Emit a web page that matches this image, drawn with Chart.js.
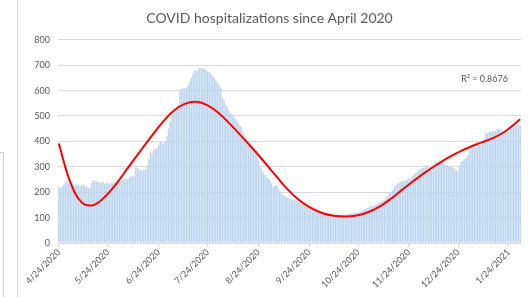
<!DOCTYPE html>
<html>
<head>
<meta charset="utf-8">
<title>COVID hospitalizations since April 2020</title>
<script src="https://cdn.jsdelivr.net/npm/chart.js@4/dist/chart.umd.min.js"></script>
<style>
  html, body { margin: 0; padding: 0; background: #fff; }
  #wrap { position: relative; width: 532px; height: 297px; overflow: hidden; }
  #frame { position: absolute; left: 17px; top: 0; width: 0; height: 297px; border-left: 1px solid #d9d9d9; }
  #sidebox { position: absolute; left: -10px; top: 152px; width: 12px; height: 160px; border: 1px solid #d0d0d0; }
</style>
</head>
<body>
<div id="wrap">
  <div id="frame"></div>
  <div id="sidebox"></div>
  <canvas id="hospChart" width="532" height="297"></canvas>
</div>
<script>
// Daily hospitalizations, first day is 4/24/2020
const startDate = new Date(2020, 3, 24);
const hospitalizations = [
  222, 215, 220, 230, 238, 244, 236, 230, 228, 225,
  225, 232, 226, 222, 228, 230, 224, 220, 216, 218,
  236, 248, 244, 240, 241, 238, 236, 240, 233, 235,
  238, 232, 236, 234, 240, 235, 242, 246, 250, 244,
  252, 255, 250, 258, 261, 264, 262, 300, 295, 290,
  287, 284, 288, 290, 300, 330, 360, 352, 365, 370,
  374, 385, 399, 396, 392, 399, 420, 450, 478, 495,
  512, 525, 535, 543, 600, 605, 608, 609, 612, 620,
  635, 650, 668, 681, 676, 684, 688, 689, 684, 686,
  681, 676, 672, 665, 658, 650, 640, 632, 620, 610,
  571, 560, 543, 535, 520, 510, 505, 498, 490, 482,
  470, 460, 448, 432, 420, 410, 405, 399, 385, 370,
  355, 345, 325, 300, 290, 278, 268, 260, 255, 248,
  235, 220, 226, 228, 218, 205, 195, 190, 186, 182,
  178, 175, 172, 170, 168, 165, 162, 160, 158, 156,
  152, 150, 147, 145, 142, 140, 138, 135, 130, 128,
  123, 121, 118, 116, 114, 112, 110, 111, 109, 110,
  108, 110, 109, 111, 110, 110, 112, 115, 117, 116,
  118, 119, 121, 120, 122, 126, 130, 134, 137, 140,
  143, 145, 147, 150, 152, 155, 158, 162, 166, 170,
  178, 186, 195, 202, 210, 220, 228, 235, 238, 240,
  245, 244, 248, 250, 255, 252, 262, 270, 275, 280,
  287, 290, 294, 296, 298, 300, 297, 300, 305, 310,
  318, 320, 316, 312, 318, 315, 310, 306, 302, 300,
  300, 296, 292, 285, 281, 300, 320, 325, 330, 335,
  345, 360, 370, 372, 375, 378, 380, 386, 388, 390,
  410, 435, 432, 436, 438, 440, 440, 442, 446, 450,
  448, 440, 435, 432, 436, 440, 446, 452, 455, 460,
  462, 468, 465
];

// Polynomial trendline
const trendDays = [0, 7, 14, 21, 28, 35, 42, 49, 56, 63, 70, 77, 84, 91, 98, 105, 112, 119, 126, 133,
  140, 147, 154, 161, 168, 175, 182, 189, 196, 203, 210, 217, 224, 231, 238, 245, 252, 259, 266,
  273, 280, 282];
const trendValues = [392, 240, 160, 149, 181, 232, 294, 355, 415, 472, 520, 548, 556, 542, 510, 466, 418, 368, 316, 262,
  210, 168, 138, 118, 107, 104, 108, 121, 143, 174, 210, 245, 278, 308, 336, 360, 380, 397, 415,
  440, 476, 487];

const rSquaredText = 'R\u00B2 = 0.8676';

// Date labels M/D/YYYY
const labels = hospitalizations.map((v, i) => {
  const d = new Date(startDate.getFullYear(), startDate.getMonth(), startDate.getDate() + i);
  return (d.getMonth() + 1) + '/' + d.getDate() + '/' + d.getFullYear();
});

const trendData = labels.map(() => null);
trendDays.forEach((day, i) => { trendData[day] = trendValues[i]; });

const gray = '#595959';
const fontFamily = 'Lato, "Liberation Sans", sans-serif';

const rSquaredPlugin = {
  id: 'rSquared',
  afterDraw(chart) {
    const ctx = chart.ctx;
    const y = chart.scales.y.getPixelForValue(645);
    ctx.save();
    ctx.font = '9px ' + fontFamily;
    ctx.fillStyle = gray;
    ctx.textAlign = 'right';
    ctx.textBaseline = 'middle';
    ctx.fillText(rSquaredText, chart.chartArea.right - 13, y);
    ctx.restore();
  }
};

const ctx = document.getElementById('hospChart').getContext('2d');
const hospChart = new Chart(ctx, {
  type: 'bar',
  data: {
    labels: labels,
    datasets: [
      {
        type: 'line',
        label: 'Trend',
        data: trendData,
        borderColor: '#ff0000',
        borderWidth: 2,
        pointRadius: 0,
        spanGaps: true,
        tension: 0.4,
        fill: false
      },
      {
        label: 'Hospitalizations',
        data: hospitalizations,
        backgroundColor: '#bcd5ee',
        barPercentage: 1,
        categoryPercentage: 0.85
      }
    ]
  },
  options: {
    responsive: false,
    animation: false,
    layout: { padding: { left: 18, right: 11, top: 0, bottom: 0 } },
    plugins: {
      legend: { display: false },
      tooltip: { enabled: false },
      title: {
        display: true,
        text: 'COVID hospitalizations since April 2020',
        color: gray,
        font: { family: fontFamily, size: 14, weight: 'normal' },
        padding: { top: 10, bottom: 13 }
      }
    },
    scales: {
      x: {
        afterFit(scale) { scale.height = 54; },
        grid: {
          offset: false,
          drawOnChartArea: false,
          color: '#d9d9d9',
          tickLength: 4
        },
        border: { color: '#d9d9d9' },
        ticks: {
          autoSkip: false,
          maxRotation: 45,
          minRotation: 45,
          padding: 0,
          color: gray,
          font: { family: fontFamily, size: 9 },
          callback(value, index) {
            const lab = labels[index];
            return lab.split('/')[1] === '24' ? lab : null;
          }
        }
      },
      y: {
        min: 0,
        max: 800,
        afterFit(scale) { scale.width = 40; },
        grid: { color: '#d9d9d9', drawTicks: false },
        border: { display: false },
        ticks: {
          stepSize: 100,
          padding: 8,
          color: gray,
          font: { family: fontFamily, size: 9 }
        }
      }
    }
  },
  plugins: [rSquaredPlugin]
});
</script>
</body>
</html>
